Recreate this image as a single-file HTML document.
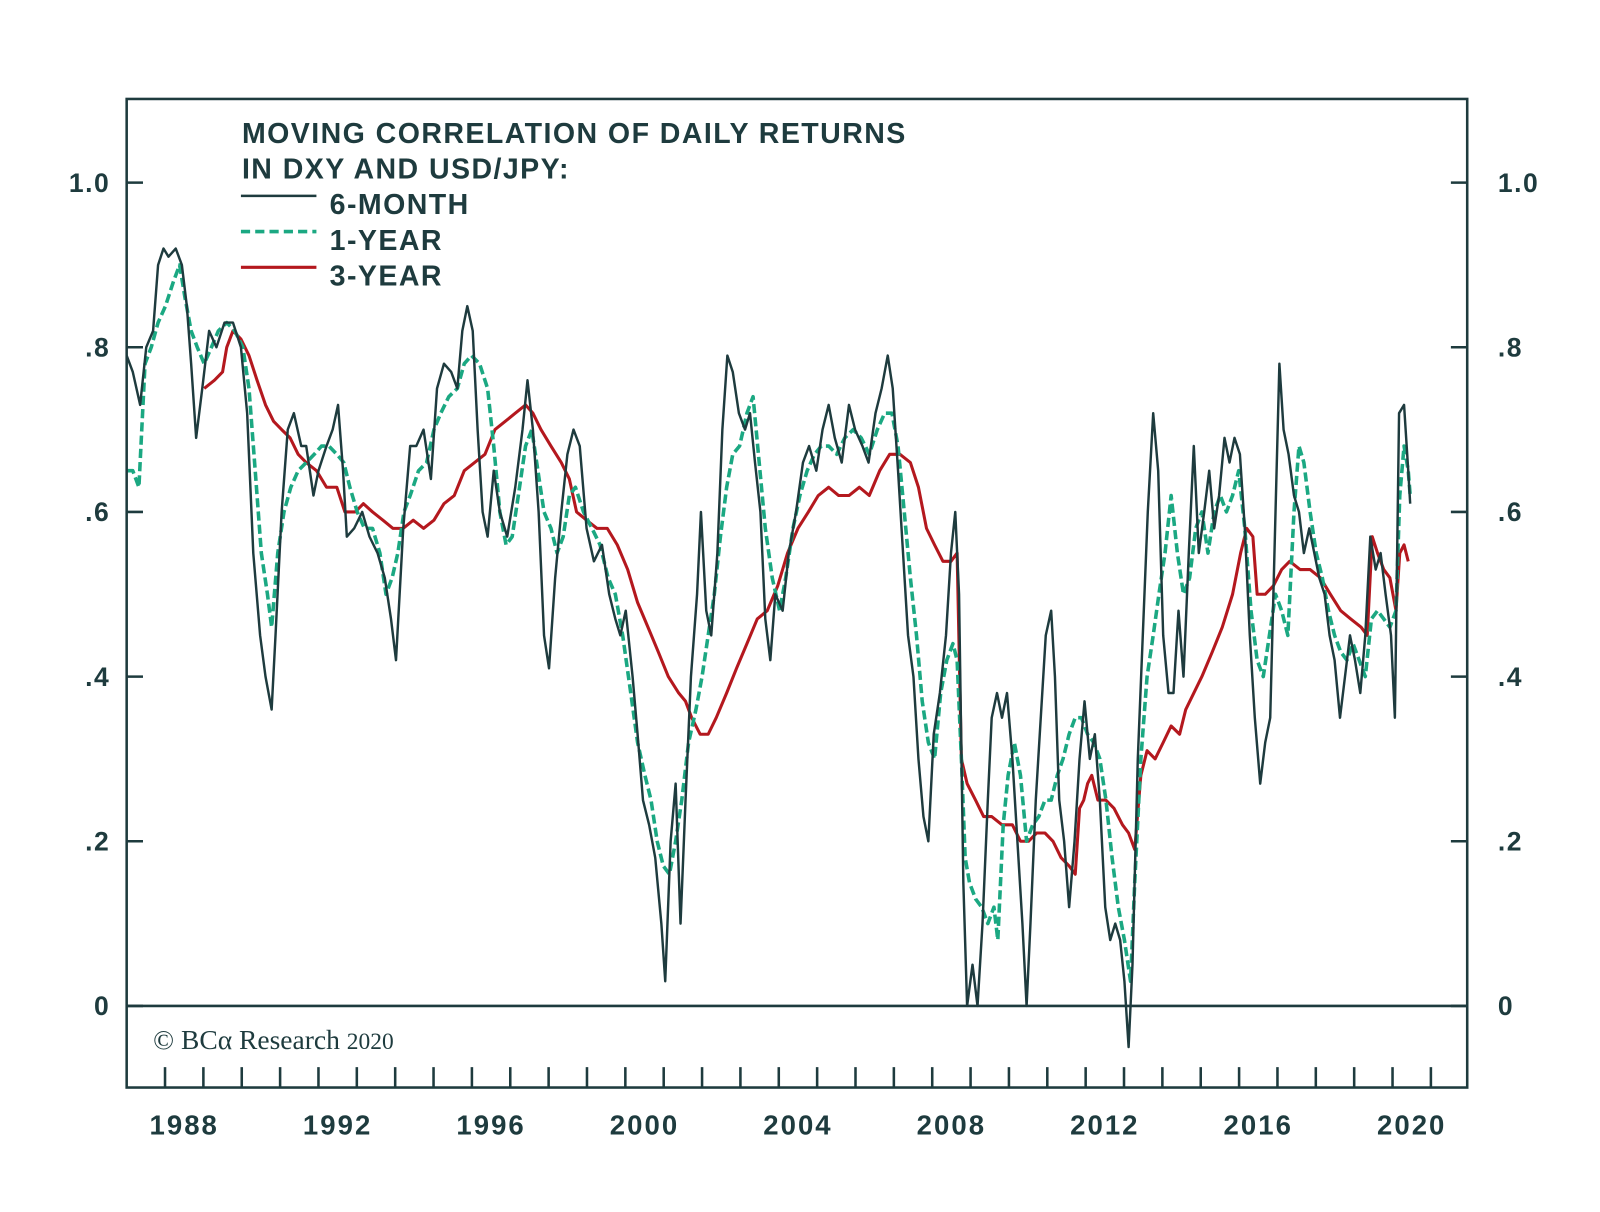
<!DOCTYPE html>
<html><head><meta charset="utf-8"><style>
html,body{margin:0;padding:0;background:#fff;}
svg{display:block;font-family:"Liberation Sans",sans-serif;}
</style></head><body>
<svg id="chart" width="1600" height="1212" viewBox="0 0 1568 1188" xmlns="http://www.w3.org/2000/svg">
<rect x="0" y="0" width="1568" height="1188" fill="#fff"/>
<g id="plot"></g>
<rect x="124" y="97" width="1314" height="969" fill="none" stroke="#1e3b3e" stroke-width="2.5"/>
<g id="axes"></g>
<g fill="#1e3b3e" font-weight="bold" font-size="28" letter-spacing="1.4">
<text x="237" y="140">MOVING CORRELATION OF DAILY RETURNS</text>
<text x="237" y="175">IN DXY AND USD/JPY:</text>
<line x1="236" y1="192" x2="310" y2="192" stroke="#1e3b3e" stroke-width="2.5"/>
<text x="323" y="210">6-MONTH</text>
<line x1="236" y1="227" x2="310" y2="227" stroke="#1ba882" stroke-width="3.5" stroke-dasharray="9,5"/>
<text x="323" y="245">1-YEAR</text>
<line x1="236" y1="262" x2="310" y2="262" stroke="#b4181e" stroke-width="3"/>
<text x="323" y="280">3-YEAR</text>
</g>
<text x="150" y="1028" font-family="'Liberation Serif',serif" font-size="27" fill="#1e3b3e">© BCα Research <tspan font-size="23">2020</tspan></text>
</svg>
<script>
const baseYear = 1987;
const yTicks = [0, 0.2, 0.4, 0.6, 0.8, 1.0];
const yTickLabels = ["0", ".2", ".4", ".6", ".8", "1.0"];
const xLabelYears = [1988, 1992, 1996, 2000, 2004, 2008, 2012, 2016, 2020];
const t6m = [0,.16,.35,.51,.69,.82,.96,1.09,1.28,1.44,1.57,1.68,1.81,1.97,2.15,2.34,2.55,2.77,2.98,3.14,3.30,3.48,3.62,3.78,3.88,4.04,4.20,4.36,4.55,4.68,4.87,5.00,5.21,5.37,5.51,5.64,5.74,5.93,6.14,6.33,6.54,6.73,6.89,7.02,7.21,7.39,7.55,7.74,7.93,8.09,8.27,8.46,8.62,8.75,8.88,9.02,9.15,9.28,9.41,9.57,9.73,9.92,10.13,10.32,10.45,10.59,10.74,10.88,11.01,11.17,11.33,11.49,11.65,11.81,11.99,12.18,12.39,12.58,12.74,12.87,13.01,13.19,13.32,13.46,13.62,13.78,13.94,14.04,14.18,14.31,14.44,14.57,14.71,14.87,14.97,15.11,15.24,15.40,15.53,15.66,15.80,15.96,16.12,16.25,16.38,16.52,16.65,16.78,16.91,17.10,17.26,17.45,17.63,17.79,17.98,18.14,18.30,18.46,18.64,18.83,18.99,19.18,19.34,19.52,19.68,19.84,19.97,20.11,20.24,20.37,20.51,20.64,20.77,20.90,21.04,21.20,21.36,21.49,21.60,21.70,21.81,21.91,22.05,22.18,22.31,22.45,22.55,22.69,22.82,22.95,23.09,23.22,23.35,23.46,23.56,23.70,23.83,23.96,24.10,24.20,24.31,24.44,24.57,24.71,24.84,24.97,25.11,25.24,25.37,25.51,25.64,25.77,25.90,26.01,26.12,26.22,26.36,26.49,26.62,26.76,26.89,27.02,27.16,27.29,27.42,27.55,27.69,27.82,27.95,28.09,28.22,28.35,28.48,28.62,28.75,28.88,29.02,29.15,29.28,29.41,29.55,29.68,29.81,29.95,30.05,30.16,30.29,30.43,30.56,30.69,30.83,30.96,31.09,31.23,31.36,31.49,31.63,31.76,31.89,32.02,32.16,32.29,32.42,32.56,32.69,32.82,32.96,33.06,33.17,33.30,33.41,33.46];
const v6m = [.79,.77,.73,.80,.82,.90,.92,.91,.92,.90,.85,.78,.69,.75,.82,.80,.83,.83,.80,.72,.55,.45,.40,.36,.45,.60,.70,.72,.68,.68,.62,.65,.68,.70,.73,.65,.57,.58,.60,.57,.55,.52,.47,.42,.58,.68,.68,.70,.64,.75,.78,.77,.75,.82,.85,.82,.70,.60,.57,.65,.60,.57,.63,.70,.76,.70,.60,.45,.41,.52,.60,.67,.70,.68,.58,.54,.56,.50,.47,.45,.48,.40,.33,.25,.22,.18,.10,.03,.20,.27,.10,.25,.40,.50,.60,.48,.45,.55,.70,.79,.77,.72,.70,.72,.66,.60,.47,.42,.50,.48,.55,.60,.66,.68,.65,.70,.73,.69,.66,.73,.70,.68,.66,.72,.75,.79,.75,.65,.55,.45,.40,.30,.23,.20,.33,.38,.45,.55,.60,.50,.15,.00,.05,.00,.10,.25,.35,.38,.35,.38,.30,.20,.10,.00,.10,.25,.35,.45,.48,.40,.25,.20,.12,.20,.30,.37,.30,.33,.25,.12,.08,.10,.08,.03,-.05,.05,.30,.45,.60,.72,.65,.45,.38,.38,.48,.40,.55,.68,.55,.60,.65,.58,.62,.69,.66,.69,.67,.58,.45,.35,.27,.32,.35,.60,.78,.70,.67,.62,.60,.55,.58,.55,.52,.50,.45,.42,.35,.40,.45,.42,.38,.45,.57,.53,.55,.50,.45,.35,.72,.73,.65,.61];
const t1y = [0,.16,.32,.48,.64,.82,1.01,1.22,1.38,1.52,1.68,1.84,2.02,2.21,2.39,2.61,2.82,3.03,3.19,3.35,3.51,3.67,3.78,3.94,4.10,4.28,4.47,4.68,4.89,5.08,5.27,5.48,5.66,5.82,6.01,6.20,6.41,6.60,6.76,6.92,7.07,7.23,7.39,7.61,7.82,8.01,8.19,8.40,8.62,8.80,8.99,9.20,9.41,9.57,9.73,9.89,10.05,10.21,10.40,10.56,10.72,10.88,11.06,11.22,11.38,11.54,11.70,11.91,12.13,12.34,12.55,12.74,12.93,13.14,13.32,13.51,13.67,13.83,13.99,14.15,14.31,14.47,14.65,14.84,15.00,15.16,15.32,15.48,15.64,15.80,15.98,16.17,16.33,16.49,16.65,16.83,17.02,17.18,17.37,17.55,17.74,17.93,18.11,18.30,18.51,18.72,18.94,19.15,19.36,19.57,19.76,19.95,20.11,20.27,20.43,20.59,20.74,20.90,21.06,21.22,21.38,21.54,21.65,21.76,21.86,21.97,22.13,22.29,22.45,22.61,22.71,22.85,22.98,23.14,23.30,23.46,23.62,23.78,23.94,24.10,24.26,24.41,24.57,24.73,24.89,25.05,25.21,25.37,25.53,25.69,25.85,26.01,26.17,26.28,26.44,26.60,26.76,26.91,27.07,27.23,27.39,27.55,27.71,27.87,28.03,28.19,28.35,28.51,28.67,28.83,28.99,29.15,29.31,29.47,29.63,29.79,29.95,30.11,30.27,30.43,30.56,30.69,30.85,31.01,31.17,31.33,31.49,31.65,31.81,31.97,32.13,32.29,32.45,32.61,32.77,32.93,33.09,33.19,33.30,33.41,33.46];
const v1y = [.65,.65,.63,.78,.80,.83,.85,.88,.90,.86,.82,.80,.78,.80,.82,.83,.82,.80,.75,.65,.55,.50,.46,.55,.60,.63,.65,.66,.67,.68,.68,.67,.66,.63,.60,.58,.58,.55,.50,.52,.55,.60,.62,.65,.66,.70,.72,.74,.75,.78,.79,.78,.75,.68,.60,.56,.57,.62,.68,.70,.65,.60,.58,.55,.57,.62,.63,.60,.58,.56,.52,.50,.45,.38,.32,.28,.25,.20,.17,.16,.20,.25,.32,.36,.40,.45,.50,.57,.63,.67,.68,.72,.74,.66,.58,.52,.48,.52,.58,.62,.65,.67,.68,.68,.67,.69,.70,.69,.67,.70,.72,.72,.68,.60,.52,.45,.37,.32,.30,.38,.42,.44,.42,.30,.18,.15,.13,.12,.10,.12,.08,.22,.28,.32,.28,.20,.22,.23,.25,.25,.28,.30,.33,.35,.35,.33,.32,.30,.25,.18,.12,.08,.03,.15,.30,.40,.45,.50,.55,.62,.55,.50,.52,.58,.60,.55,.60,.62,.60,.62,.65,.58,.48,.42,.40,.45,.50,.48,.45,.60,.68,.66,.60,.55,.52,.48,.45,.43,.42,.44,.42,.40,.47,.48,.47,.46,.48,.62,.68,.65,.62];
const t3y = [2.02,2.29,2.50,2.61,2.77,2.98,3.19,3.40,3.62,3.83,4.04,4.26,4.47,4.68,4.95,5.21,5.48,5.69,5.96,6.17,6.41,6.68,6.94,7.21,7.47,7.74,8.01,8.27,8.54,8.80,9.07,9.34,9.60,9.87,10.13,10.40,10.59,10.80,11.06,11.33,11.54,11.73,11.99,12.26,12.53,12.79,13.06,13.32,13.59,13.86,14.12,14.39,14.57,14.73,14.95,15.16,15.37,15.64,15.90,16.17,16.44,16.70,16.97,17.23,17.50,17.77,18.03,18.30,18.56,18.83,19.10,19.36,19.63,19.89,20.16,20.43,20.64,20.85,21.06,21.28,21.49,21.65,21.76,21.91,22.13,22.34,22.55,22.82,23.09,23.30,23.51,23.72,23.94,24.15,24.36,24.57,24.73,24.84,24.95,25.05,25.16,25.32,25.53,25.74,25.96,26.12,26.28,26.44,26.60,26.81,27.02,27.23,27.45,27.61,27.82,28.03,28.30,28.56,28.83,29.04,29.20,29.36,29.47,29.68,29.89,30.11,30.32,30.59,30.85,31.12,31.38,31.65,31.91,32.18,32.34,32.47,32.61,32.77,32.93,33.09,33.19,33.30,33.41];
const v3y = [.75,.76,.77,.80,.82,.81,.79,.76,.73,.71,.70,.69,.67,.66,.65,.63,.63,.60,.60,.61,.60,.59,.58,.58,.59,.58,.59,.61,.62,.65,.66,.67,.70,.71,.72,.73,.72,.70,.68,.66,.64,.60,.59,.58,.58,.56,.53,.49,.46,.43,.40,.38,.37,.35,.33,.33,.35,.38,.41,.44,.47,.48,.51,.55,.58,.60,.62,.63,.62,.62,.63,.62,.65,.67,.67,.66,.63,.58,.56,.54,.54,.55,.30,.27,.25,.23,.23,.22,.22,.20,.20,.21,.21,.20,.18,.17,.16,.24,.25,.27,.28,.25,.25,.24,.22,.21,.19,.28,.31,.30,.32,.34,.33,.36,.38,.40,.43,.46,.50,.55,.58,.57,.50,.50,.51,.53,.54,.53,.53,.52,.50,.48,.47,.46,.45,.57,.55,.53,.52,.48,.55,.56,.54];

const NS = "http://www.w3.org/2000/svg";
const X0 = 124, PXY = 37.6, Y0 = 986, PXV = 807;
function xScale(yr){ return X0 + (yr - baseYear) * PXY; }
function yScale(v){ return Y0 - v * PXV; }
function mk(tag, attrs, parent){ const e = document.createElementNS(NS, tag); for (const k in attrs) e.setAttribute(k, attrs[k]); parent.appendChild(e); return e; }
const plot = document.getElementById('plot');
const axes = document.getElementById('axes');
const dark = "#1e3b3e";

function drawLine(ts, vs, color, width, dash, name){
  let d = "";
  for (let i = 0; i < ts.length; i++) d += (i ? "L" : "M") + xScale(baseYear + ts[i]).toFixed(1) + "," + yScale(vs[i]).toFixed(1);
  const p = mk('path', {d: d, fill: 'none', stroke: color, 'stroke-width': width, 'stroke-linejoin': 'round'}, plot);
  if (dash) p.setAttribute('stroke-dasharray', dash);
  
  
}
drawLine(t3y, v3y, "#b4181e", 3, null, "series-3-year");
drawLine(t1y, v1y, "#1ba882", 3.5, "9,4", "series-1-year");
drawLine(t6m, v6m, "#1e3b3e", 2.4, null, "series-6-month");

const zl = mk('line', {x1: 124, x2: 1438, y1: yScale(0), y2: yScale(0), stroke: dark, 'stroke-width': 2.5}, axes);



yTicks.forEach((v, i) => {
  const y = yScale(v);
  const tl = mk('line', {x1: 124, x2: 140, y1: y, y2: y, stroke: dark, 'stroke-width': 2.5}, axes);
  
  
  const tr = mk('line', {x1: 1422, x2: 1438, y1: y, y2: y, stroke: dark, 'stroke-width': 2.5}, axes);
  
  
  const a = mk('text', {x: 108, y: y + 9, 'text-anchor': 'end', 'font-size': 26, 'font-weight': 'bold', 'letter-spacing': 1.5, fill: dark}, axes);
  a.textContent = yTickLabels[i];
  
  
  const b = mk('text', {x: 1468, y: y + 9, 'text-anchor': 'start', 'font-size': 26, 'font-weight': 'bold', 'letter-spacing': 1.5, fill: dark}, axes);
  b.textContent = yTickLabels[i];
  
  
});

for (let yr = 1988; yr <= 2021; yr++) {
  const x = xScale(yr);
  const t = mk('line', {x1: x, x2: x, y1: 1046, y2: 1066, stroke: dark, 'stroke-width': 2.5}, axes);
  
  
}
xLabelYears.forEach(yr => {
  const t = mk('text', {x: xScale(yr + 0.5), y: 1112, 'text-anchor': 'middle', 'font-size': 27, 'font-weight': 'bold', 'letter-spacing': 2, fill: dark}, axes);
  t.textContent = String(yr);
  
  
});
</script>
</body></html>
